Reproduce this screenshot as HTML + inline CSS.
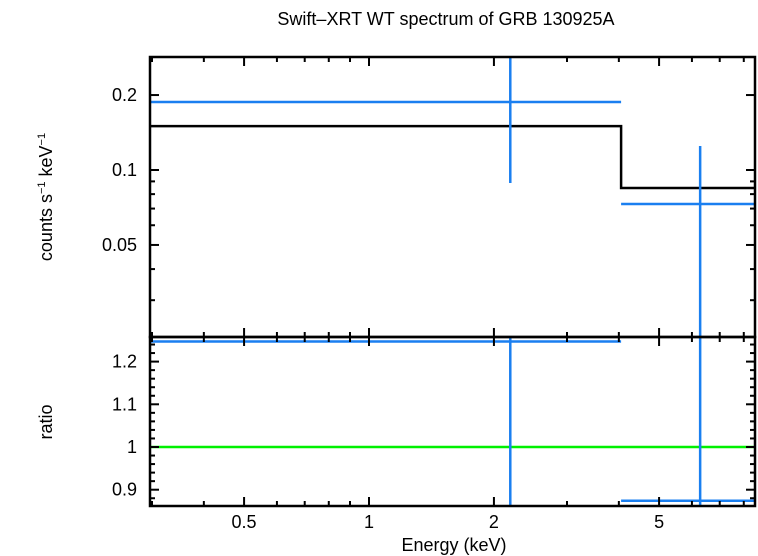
<!DOCTYPE html>
<html><head><meta charset="utf-8"><style>
body{margin:0;background:#fff;}
svg{display:block;font-family:"Liberation Sans",sans-serif;}
</style></head><body>
<svg id="c" width="758" height="556">
<text x="446" y="25" font-size="18" text-anchor="middle">Swift–XRT WT spectrum of GRB 130925A</text>
<text x="454" y="551" font-size="18" text-anchor="middle">Energy (keV)</text>
<text transform="translate(52,197) rotate(-90)" font-size="18" text-anchor="middle">counts s<tspan font-size="11" dy="-7">−1</tspan><tspan dy="7"> keV</tspan><tspan font-size="11" dy="-7">−1</tspan></text>
<text transform="translate(52,422) rotate(-90)" font-size="18" text-anchor="middle">ratio</text>
<g id="g"></g>
</svg>
<script>
const xTicks=[0.5,1,2,5];
const xMinor=[0.3,0.4,0.5,0.6,0.7,0.8,0.9,1,2,3,4,5,6,7,8];
const topTicks=[0.05,0.1,0.2];
const topMinor=[0.03,0.04,0.05,0.06,0.07,0.08,0.09,0.1,0.2];
const botTicks=[0.9,1,1.1,1.2];
const binLo=[0.296,4.05];
const binHi=[4.05,8.51];
const binCtr=[2.19,6.28];
const rate=[0.1876,0.073];
const rateLo=[0.0887,0.0213];
const rateHi=[0.284,0.1248];
const model=[0.150,0.0847];
const ratio=[1.247,0.874];
const ratioLo=[0.86,0.86];
const ratioHi=[1.256,1.256];

const L=150,R=755,T1=57,B1=337,T2=337,B2=506;
const X=v=>369+415*Math.log10(v);
const Y1=v=>170-249*Math.log10(v/0.1);
const Y2=v=>447-427*(v-1);
const ns="http://www.w3.org/2000/svg";
const g=document.getElementById('g');
function el(t,a,name){const e=document.createElementNS(ns,t);for(const k in a)e.setAttribute(k,a[k]);


g.appendChild(e);return e;}
const cl=(v,a,b)=>Math.max(a,Math.min(b,v));
const blue="#1a7ff0";
let d="";
for(let i=0;i<binLo.length;i++){const y=Y1(model[i]);d+=(i?"L":"M")+X(binLo[i])+","+y+"L"+Math.min(R,X(binHi[i]))+","+y;}
el('path',{d:d,fill:'none',stroke:'#000','stroke-width':2.5},'model-line');
el('line',{x1:L,x2:R,y1:Y2(1),y2:Y2(1),stroke:'#00f000','stroke-width':2.5},'ratio-unity-line');
for(let i=0;i<rate.length;i++){
 const x1=X(binLo[i]),x2=Math.min(R,X(binHi[i])),xc=X(binCtr[i]);
 el('line',{x1:x1,x2:x2,y1:Y1(rate[i]),y2:Y1(rate[i]),stroke:blue,'stroke-width':2.5},'data-bin-'+i);
 el('line',{x1:xc,x2:xc,y1:cl(Y1(rateHi[i]),T1,B1),y2:cl(Y1(rateLo[i]),T1,B1),stroke:blue,'stroke-width':2.5},'data-error-'+i);
 el('line',{x1:x1,x2:x2,y1:Y2(ratio[i]),y2:Y2(ratio[i]),stroke:blue,'stroke-width':2.5},'ratio-bin-'+i);
 el('line',{x1:xc,x2:xc,y1:cl(Y2(ratioHi[i]),T2,B2),y2:cl(Y2(ratioLo[i]),T2,B2),stroke:blue,'stroke-width':2.5},'ratio-error-'+i);
}
el('rect',{x:L,y:T1,width:R-L,height:B1-T1,fill:'none',stroke:'#000','stroke-width':2.5},'top-panel-frame');
el('rect',{x:L,y:T2,width:R-L,height:B2-T2,fill:'none',stroke:'#000','stroke-width':2.5},'bottom-panel-frame');
xMinor.forEach(v=>{const x=X(v);const big=xTicks.includes(v);const len=big?9:5;
 [[T1,1],[B1,-1],[T2,1],[B2,-1]].forEach(([y,s])=>el('line',{x1:x,x2:x,y1:y,y2:y+s*len,stroke:'#000','stroke-width':2},'x-tick'));});
xTicks.forEach(v=>{const t=el('text',{x:X(v),y:528,'font-size':18,'text-anchor':'middle'},'x-tick-label');t.textContent=v;});
topMinor.forEach(v=>{const y=Y1(v);const len=topTicks.includes(v)?9:5;
 el('line',{x1:L,x2:L+len,y1:y,y2:y,stroke:'#000','stroke-width':2},'y-tick-top');
 el('line',{x1:R,x2:R-len,y1:y,y2:y,stroke:'#000','stroke-width':2},'y-tick-top');});
topTicks.forEach(v=>{const t=el('text',{x:137,y:Y1(v)+6,'font-size':18,'text-anchor':'end'},'y-tick-label-top');t.textContent=v;});
for(let k=43;k<=62;k++){const v=k*0.02;const y=Y2(v);if(y<T2||y>B2)continue;const big=k%5==0;const len=big?9:5;
 el('line',{x1:L,x2:L+len,y1:y,y2:y,stroke:'#000','stroke-width':2},'y-tick-bottom');
 el('line',{x1:R,x2:R-len,y1:y,y2:y,stroke:'#000','stroke-width':2},'y-tick-bottom');}
botTicks.forEach(v=>{const t=el('text',{x:137,y:Y2(v)+6,'font-size':18,'text-anchor':'end'},'y-tick-label-bottom');t.textContent=v;});
</script>
</body></html>
